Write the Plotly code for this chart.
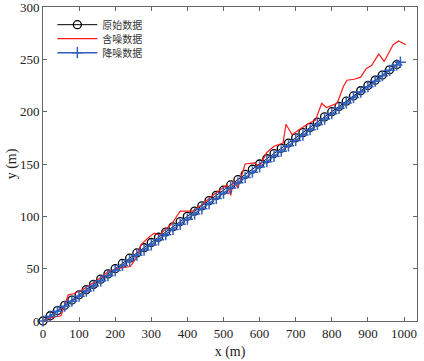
import plotly.graph_objects as go

# Original data (circles)
orig_x = [0, 20, 40, 60, 80, 100, 120, 140, 160, 180, 200, 220, 240, 260, 280, 300, 320, 340, 360, 380,
          400, 420, 440, 460, 480, 500, 520, 540, 560, 580, 600, 620, 640, 660, 680, 700, 720, 740, 760, 780,
          800, 820, 840, 860, 880, 900, 920, 940, 960, 980]
orig_y = [0, 5, 10, 15, 20, 25, 30, 35, 40, 45, 50, 55, 60, 65, 70, 75, 80, 85, 90, 95,
          100, 105, 110, 115, 120, 125, 130, 135, 140, 145, 150, 155, 160, 165, 170, 175, 180, 185, 190, 195,
          200, 205, 210, 215, 220, 225, 230, 235, 240, 245]

# Noisy data (red)
noisy_x = [0, 20, 50, 70, 85, 110, 150, 180, 205, 225, 242, 258, 272, 290, 308, 323, 340, 355, 380, 415,
           440, 460, 485, 510, 520, 528, 540, 560, 585, 600, 620, 640, 665, 673, 690, 710, 737, 755, 772, 785,
           800, 815, 832, 842, 862, 880, 895, 910, 930, 945, 970, 985, 1005]
noisy_y = [0, 3, 5, 25, 26, 30, 39, 47, 50, 51, 52, 60, 73, 79, 84, 82, 88, 92, 105, 105,
           111, 117, 124, 130, 120, 134, 127, 150, 151, 148, 161, 167, 170, 188, 178, 183, 189, 192, 208, 204,
           206, 208, 224, 230, 231, 233, 241, 244, 255, 248, 264, 267.5, 264]

# Denoised data (blue)
den_x = [0, 20, 40, 60, 80, 100, 120, 140, 160, 180, 200, 220, 240, 260, 280, 300, 320, 340, 360, 380,
         400, 420, 440, 460, 480, 500, 520, 540, 560, 580, 600, 620, 640, 660, 680, 700, 720, 740, 760, 780,
         800, 820, 840, 860, 880, 900, 920, 940, 960, 980, 990]
den_y = [0, 4.6, 9.3, 14.1, 18.9, 23.7, 28.6, 33.5, 38.4, 43.3, 48.2, 53.1, 58.0, 62.9, 67.8, 72.7, 77.6, 82.5, 87.4, 92.4,
         97.3, 102.3, 107.2, 112.2, 117.1, 122.1, 127.1, 132.1, 137.1, 142.1, 147.2, 152.2, 157.3, 162.3, 167.4, 172.5, 177.6, 182.7, 187.8, 192.9,
         198.0, 203.2, 208.3, 213.5, 218.7, 223.9, 229.1, 234.3, 239.5, 244.7, 247.3]

x_ticks = [0, 100, 200, 300, 400, 500, 600, 700, 800, 900, 1000]
y_ticks = [0, 50, 100, 150, 200, 250, 300]

fig = go.Figure()
fig.add_trace(go.Scatter(
    x=orig_x, y=orig_y, mode="lines+markers", name="原始数据", legend="legend",
    line=dict(color="#000000", width=1),
    marker=dict(symbol="circle-open", size=8, color="#000000", line=dict(width=1.3)),
    cliponaxis=False))
fig.add_trace(go.Scatter(
    x=noisy_x, y=noisy_y, mode="lines", name="含噪数据", legend="legend2",
    line=dict(color="#ff1a1a", width=1.2), cliponaxis=False))
fig.add_trace(go.Scatter(
    x=den_x, y=den_y, mode="lines+markers", name="降噪数据", legend="legend3",
    line=dict(color="#2f5fbf", width=1.5),
    marker=dict(symbol="cross-thin-open", size=8, color="#2f5fbf", line=dict(width=1.5, color="#2f5fbf")),
    cliponaxis=False))

axis_common = dict(
    showline=True, mirror="ticks", linecolor="#666666", linewidth=1,
    ticks="inside", ticklen=4, tickcolor="#666666",
    showgrid=False, zeroline=False, automargin=False, ticklabeloverflow="allow",
    tickfont=dict(family="Liberation Serif", size=13, color="#222222"),
)

legend_common = dict(x=0.025, xanchor="left", yanchor="middle",
                     bgcolor="rgba(255,255,255,0)", borderwidth=0, itemwidth=40,
                     font=dict(family="Noto Sans CJK SC", size=10, color="#333333"))

fig.update_layout(
    width=424, height=361,
    margin=dict(l=43, r=7, t=7, b=40),
    paper_bgcolor="white", plot_bgcolor="white",
    xaxis=dict(range=[0, 1036], tickvals=x_ticks,
               title=dict(text="x (m)", font=dict(family="Liberation Serif", size=14, color="#222222"), standoff=6),
               **axis_common),
    yaxis=dict(range=[0, 300], tickvals=y_ticks,
               title=dict(text="y (m)", font=dict(family="Liberation Serif", size=14, color="#222222"), standoff=0),
               **axis_common),
    legend=dict(y=0.9437, **legend_common),
    legend2=dict(y=0.8992, **legend_common),
    legend3=dict(y=0.8546, **legend_common),
    showlegend=True,
)

fig.write_html("out.html", config={"displayModeBar": False},
               post_script="document.body.style.margin='0';document.body.style.padding='0';document.body.style.overflow='hidden';")
